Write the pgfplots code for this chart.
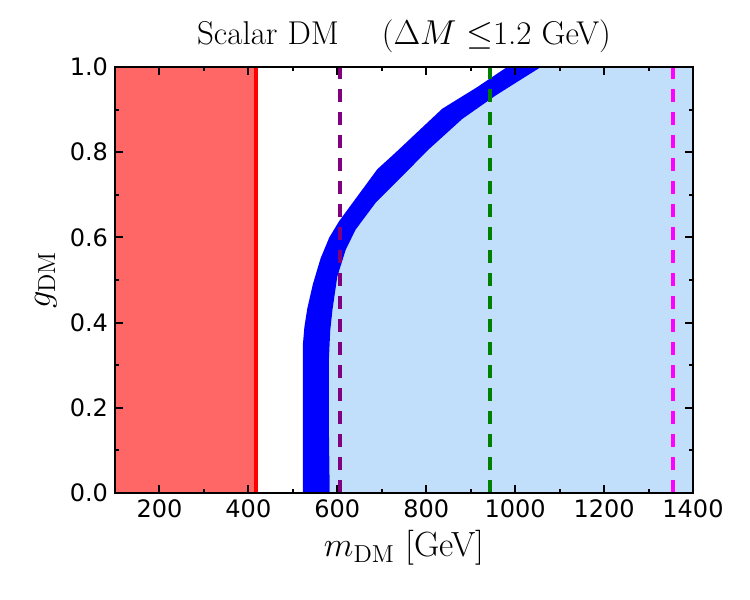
\documentclass[border=0pt]{standalone}
\usepackage{pgfplots}
\pgfplotsset{compat=1.18}
\usepackage{fontspec}
\newfontfamily\dejavu{DejaVu Sans}
\definecolor{redfill}{RGB}{255,102,102}
\definecolor{lblue}{RGB}{193,223,251}
\definecolor{dpurple}{RGB}{128,0,128}
\definecolor{dgreen}{RGB}{0,128,0}
\definecolor{mag}{RGB}{255,0,255}
\begin{document}
\begin{tikzpicture}
\begin{axis}[
  name=ax,
  width=289pt, height=213pt, scale only axis,
  xmin=100, xmax=1400, ymin=0, ymax=1,
  xtick={200,400,600,800,1000,1200,1400},
  minor xtick={100,300,500,700,900,1100,1300},
  ytick={0,0.2,0.4,0.6,0.8,1.0},
  minor ytick={0.1,0.3,0.5,0.7,0.9},
  tick align=inside,
  major tick length=4pt, minor tick length=2pt,
  every tick/.style={black, line width=1pt},
  axis line style={line width=1.25pt},
  axis on top,
  ticklabel style={font=\dejavu\fontsize{12}{14}\selectfont},
  /pgf/number format/assume math mode=true,
  xticklabel style={/pgf/number format/1000 sep={}},
  yticklabel style={/pgf/number format/fixed, /pgf/number format/fixed zerofill, /pgf/number format/precision=1},
  xlabel={$m_{\rm DM}$ [GeV]},
  ylabel={$g_{\rm DM}$},
  xlabel style={font=\fontsize{17.5}{20}\selectfont, at={(axis description cs:0.5,-0.15)}, anchor=base},
  ylabel style={font=\fontsize{17.5}{20}\selectfont, at={(axis description cs:-0.1125,0.5)}, anchor=base, rotate=0},
  title={Scalar DM\hspace{1.3em}($\Delta M \leq$1.2 GeV)},
  title style={font=\fontsize{16.5}{19}\selectfont, at={(axis description cs:0.5,1.0235)}, anchor=base},
]
% red excluded region
\addplot[fill=redfill, draw=none] coordinates {(100,0) (417,0) (417,1) (100,1)} -- cycle;
% light blue region
\addplot[fill=lblue, draw=none] coordinates {
 (583,0) (581,0.154) (581,0.311) (584,0.38) (589,0.429) (600,0.508) (619,0.571) (641,0.618) (686,0.681) (731,0.728) (806,0.807) (881,0.878) (956,0.933) (1000,0.962) (1058,1.0)
 (1400,1) (1400,0)} -- cycle;
% blue band
\addplot[fill=blue, draw=none] coordinates {
 (522.7,0) (522.7,0.35) (526,0.39) (532.5,0.433) (545,0.49) (562.5,0.551) (582,0.6) (604,0.638) (690,0.76) (731,0.799) (785,0.852) (836,0.902) (915,0.953) (982,1.0)
 (1058,1.0) (1000,0.962) (956,0.933) (881,0.878) (806,0.807) (731,0.728) (686,0.681) (641,0.618) (619,0.571) (600,0.508) (589,0.429) (584,0.38) (581,0.311) (581,0.154) (583,0)} -- cycle;
% vertical lines
\addplot[red, line width=2pt] coordinates {(417,0) (417,1)};
\addplot[dpurple, line width=2pt, dash pattern=on 6.5pt off 5pt] coordinates {(607,0) (607,1)};
\addplot[dgreen, line width=2pt, dash pattern=on 6.5pt off 5pt] coordinates {(943,0) (943,1)};
\addplot[mag, line width=2pt, dash pattern=on 6.5pt off 5pt] coordinates {(1355,0) (1355,1)};
\end{axis}
\path ([shift={(-57.5pt,-53.5pt)}]ax.south west) rectangle ([shift={(28.5pt,33.5pt)}]ax.north east);
\end{tikzpicture}
\end{document}
